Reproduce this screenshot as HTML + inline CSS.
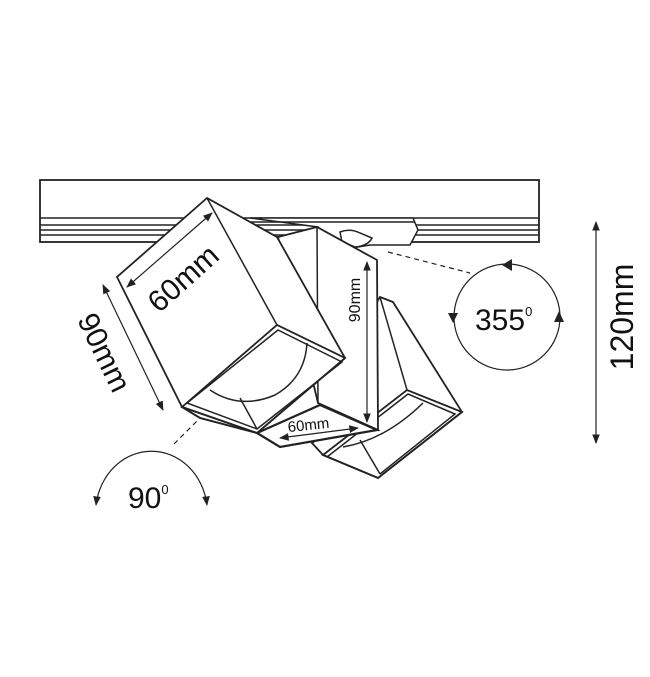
<!DOCTYPE html>
<html><head><style>body{margin:0;background:#fff}svg{display:block}</style></head><body>
<svg width="650" height="677" viewBox="0 0 650 677" xmlns="http://www.w3.org/2000/svg" font-family="Liberation Sans, sans-serif" fill="none" stroke="#222" stroke-width="1.5">
<defs>
<marker id="a" viewBox="0 0 10 10" refX="9" refY="5" markerWidth="8" markerHeight="8" orient="auto-start-reverse"><path d="M0,1L10,5L0,9z" fill="#222" stroke="none"/></marker>
</defs>
<!-- rail -->
<rect x="40" y="180" width="499" height="62" stroke-width="1.8"/>
<line x1="40" y1="218" x2="539" y2="218"/>
<line x1="40" y1="225" x2="539" y2="225"/>
<line x1="40" y1="230" x2="539" y2="230"/>
<line x1="40" y1="235" x2="539" y2="235"/>
<!-- adapter -->
<path d="M250,218 L413,218 L418,230 L410,245 L370,245 L340,250 L318,227 Z" fill="#fff"/>
<line x1="250" y1="222" x2="415" y2="222"/>
<path d="M340,232 Q350,228 360,233 L372,238 Q368,246 355,247 L342,242 Z" fill="#fff"/>
<!-- back right box -->
<path d="M380,297 L393,302 L462,412 L378,478 L323,455 L312,443 L330,430 L378,300 Z" fill="#fff" stroke-width="1.8"/>
<line x1="380" y1="297" x2="407" y2="390"/>
<path d="M323,455 L407,390 L462,412 L378,478 Z" stroke-width="1.8"/>
<path d="M327,457 L408,394 L455,414 L380,474"/>
<path d="M343,447 Q385,440 423,403"/>
<line x1="360" y1="440" x2="380" y2="474"/>
<!-- middle vertical box -->
<path d="M278,237 L317,227 L377,260 L378,430 L318,403 Z" fill="#fff" stroke-width="1.8"/>
<line x1="317" y1="227" x2="318" y2="403"/>
<path d="M257,433 L320,405 L377,430 L280,447 Z" fill="#fff" stroke-width="2.2"/>
<!-- front box -->
<path d="M207,198 L117,277 L182,407 L257,433 L345,358 L277,237 Z" fill="#fff" stroke-width="1.8"/>
<line x1="207" y1="198" x2="277" y2="325"/>
<path d="M182,407 L277,325 L345,358 L257,433 Z" stroke-width="1.8"/>
<path d="M187,403 L278,330 L342,362 L257,429 Z"/>
<path d="M210,390 Q240,410 275,395 Q305,378 307,343"/>
<line x1="240" y1="398" x2="257" y2="429"/>
<path d="M182,407 L200,418 L257,433" stroke-width="2"/>
<!-- dims -->
<line x1="127" y1="287" x2="212" y2="213" stroke-width="1.2" marker-start="url(#a)" marker-end="url(#a)"/>
<text x="0" y="0" transform="translate(190,286) rotate(-42)" font-size="30" fill="#111" stroke="none" text-anchor="middle">60mm</text>
<line x1="103" y1="285" x2="163" y2="410" stroke-width="1.2" marker-start="url(#a)" marker-end="url(#a)"/>
<text x="0" y="0" transform="translate(95,357) rotate(64)" font-size="30" fill="#111" stroke="none" text-anchor="middle">90mm</text>
<line x1="367" y1="262" x2="367" y2="422" stroke-width="1.2" marker-start="url(#a)" marker-end="url(#a)"/>
<text x="0" y="0" transform="translate(360,300) rotate(-90)" font-size="16" fill="#111" stroke="none" text-anchor="middle">90mm</text>
<line x1="280" y1="438" x2="358" y2="428" stroke-width="1.2" marker-start="url(#a)" marker-end="url(#a)"/>
<text x="0" y="0" transform="translate(309,430) rotate(-6)" font-size="15" fill="#111" stroke="none" text-anchor="middle">60mm</text>
<line x1="596" y1="222" x2="596" y2="443" stroke-width="1.2" marker-start="url(#a)" marker-end="url(#a)"/>
<text x="0" y="0" transform="translate(633,317) rotate(-90)" font-size="32" fill="#111" stroke="none" text-anchor="middle">120mm</text>
<!-- 355 -->
<line x1="388" y1="252" x2="470" y2="273" stroke-width="1.2" stroke-dasharray="5,4"/>
<circle cx="507" cy="317" r="53" stroke-width="1.2"/>
<path d="M502,265 L512,259 L512,271Z" fill="#222" stroke="none"/>
<path d="M448,313 L458,313 L453,323Z" fill="#222" stroke="none"/>
<path d="M554,322 L564,322 L559,311Z" fill="#222" stroke="none"/>
<text x="475" y="330" font-size="30" fill="#111" stroke="none">355<tspan font-size="13" dy="-14">0</tspan></text>
<!-- 90 -->
<line x1="174" y1="444" x2="200" y2="418" stroke-width="1.2" stroke-dasharray="5,4"/>
<path d="M96,505 A56,62 0 0 1 207,505" stroke-width="1.2" marker-start="url(#a)" marker-end="url(#a)"/>
<text x="128" y="508" font-size="30" fill="#111" stroke="none">90<tspan font-size="13" dy="-14">0</tspan></text>
</svg>
</body></html>
